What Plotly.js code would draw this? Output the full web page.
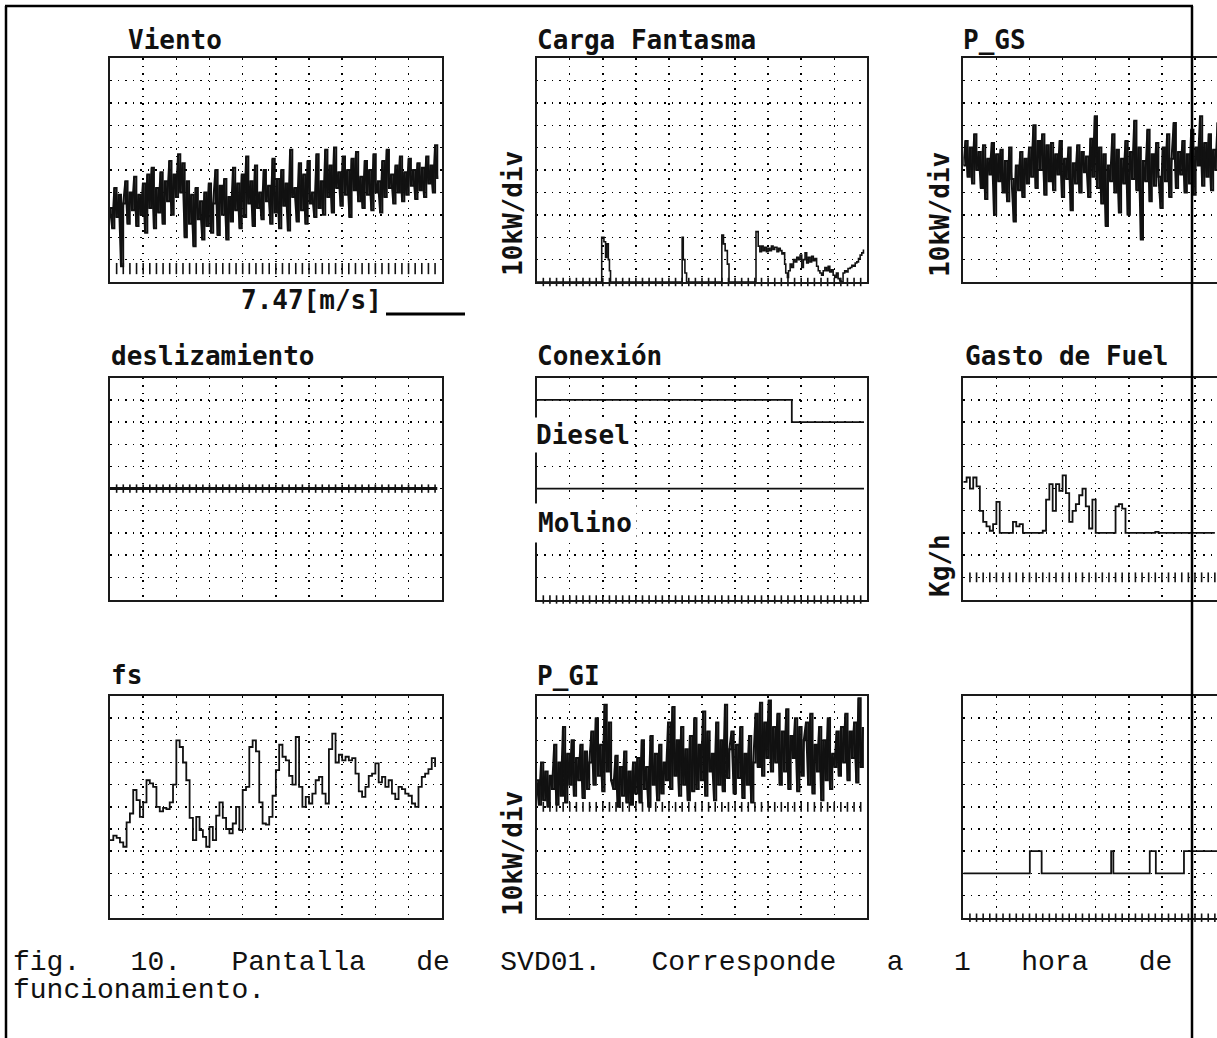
<!DOCTYPE html>
<html><head><meta charset="utf-8">
<script src="https://cdn.plot.ly/plotly-3.0.1.min.js"></script>
<style>html,body{margin:0;padding:0;background:#fff}</style>
</head><body><div id="chart" style="width:1217px;height:1038px"></div>
<script>
// ---- time base: 10 divisions = 60 min on screen; record covers ~59.2 min ----
const MIN_PER_DIV = 6;
const RECORD_MIN = 59.2;
const FAST_STEP_MIN = RECORD_MIN / 149;   // dense channels (150 samples / record)
const SLOW_STEP_MIN = 0.6;                // fs and fuel channels

// ---- channel data ----
// Viento, in screen divisions
const vientoDiv = [3.3,2.4,4.2,2.9,3.9,0.7,3.5,
  4.5,2.6,4.0,3.2,4.7,2.5,3.9,3.0,4.4,
  2.2,4.8,3.3,5.1,2.4,4.2,3.1,4.9,2.6,4.5,3.6,5.4,3.0,4.8,
  3.8,5.7,4.0,5.3,
  2.0,4.5,2.6,3.9,1.6,4.2,2.8,3.6,1.9,4.0,2.5,4.4,2.2,3.5,
  5.0,2.1,4.3,3.0,4.6,1.9,3.8,2.7,5.1,3.2,4.4,2.4,
  4.8,2.9,5.6,3.5,4.5,2.5,5.2,3.3,4.0,2.8,5.0,3.6,4.3,2.6,5.5,3.1,4.6,
  2.4,5.0,3.4,4.4,2.3,5.9,3.8,4.2,2.7,5.3,3.2,4.8,2.6,5.4,3.5,4.0,2.9,5.7,3.3,4.5,3.0,
  5.9,3.8,5.2,3.1,6.0,4.2,4.9,3.4,5.6,3.9,5.0,2.9,5.5,4.1,5.8,3.6,4.7,3.3,5.4,3.9,
  5.0,3.2,5.7,4.0,4.5,3.1,5.4,3.8,5.9,4.2,4.8,3.5,5.2,4.0,5.6,3.6,4.9,3.9,5.5,4.3,5.0,3.7,5.3,4.1,5.1,3.8,5.6,4.4,5.2,4.0,6.1,4.6];
const vientoMarkLevel = 0.6;

// Carga Fantasma, kW (event times in minutes)
const cargaT = [0,11.8,12.2,12.5,12.7,13.0,13.2,13.4,26.4,26.6,
  26.9,27.2,33.6,33.9,34.2,34.6,34.9,39.8,40.2,40.5,
  40.8,41.1,41.4,41.7,42.0,42.3,42.6,42.9,43.2,43.6,
  43.9,44.2,44.5,44.8,45.0,45.2,45.5,45.7,46.0,46.3,
  46.6,46.9,47.2,47.5,47.8,48.1,48.4,48.7,49.0,49.3,
  49.6,49.9,50.2,50.5,50.8,51.1,51.4,51.7,52.0,52.3,
  52.6,52.9,53.2,53.5,53.8,54.1,54.4,54.7,55.0,55.2,
  55.6,55.9,56.2,56.5,56.9,57.2,57.5,57.8,58.1,58.4,
  58.7,59.0,59.3];
const cargaKW = [0,20,18,11,17,10,5,0,20,10,
  4,0,21,17,14,8,0,22.5,16,13.5,
  16,14,15.5,13.5,15,14,16,14.5,15.5,13.5,
  15,14,12.5,13,8,4,2,5,8,6.5,
  10,9,11,10,12,6.5,10,13,8.5,11,
  9,11.5,9.5,10.5,7,5,4,3,5,6.5,
  5,7,4.5,5.5,3,2,4,1.5,0.5,0,
  4,5,4.5,6,6.5,7.5,7,8.5,9,10.5,
  12,13,14.5];

// P_GS, kW (visible part of the record)
const pgsKW = [52,63,47,60,44,66,50,58,
  42,61,37,55,48,62,30,57,45,
  59,40,54,36,60,46,27,52,41,58,38,55,44,60,
  47,70,42,63,50,66,39,61,45,
  62,41,57,48,63,38,55,46,60,32,53,44,61,40,58,49,56,
  38,64,47,74,42,60,35,57,25,52,45,66,40,59,
  31,55,44,63,30,58,46,
  72,41,60,19,54,45,68,36,57,43,62,47,
  33,60,45,66,38,55,71,42,58,48,63,40,
  57,44,68,39,60,52,74,43,62,47,66,41,59,50,71,45];

// deslizamiento, divisions
const deslizT = [0, 59.2];
const deslizDiv = [5, 5];

// Conexión, divisions
const dieselT = [0, 46.3, 59.4];
const dieselDiv = [9, 8, 8];
const molinoT = [0, 59.4];
const molinoDiv = [5, 5];

// Gasto de Fuel, divisions (visible part)
const gastoDiv = [5.3,5.5,5.0,5.5,5.1,4.0,3.5,3.3,3.1,3.4,
  4.4,3.0,3.0,3.0,3.0,3.5,3.3,3.4,3.0,3.0,
  3.0,3.0,3.0,3.0,3.1,4.5,5.2,4.0,5.2,4.9,
  5.6,4.8,3.5,4.0,4.3,4.7,5.0,4.2,3.2,4.5,
  3.0,3.0,3.0,3.0,3.0,3.0,4.2,4.3,4.1,3.0,
  3.0,3.0,3.0,3.0,3.0,3.0,3.0,3.0,3.05,3.0,
  3.0,3.0,3.0,3.0,3.0,3.0,3.0,3.0,3.0,3.0,
  3.0,3.0,3.0,3.0,3.0,3.0,3.0];
const gastoMarkLevel = 1;

// fs, divisions
const fsDiv = [3.5,3.7,3.6,3.4,3.2,4.3,4.7,5.76,5.3,4.55,
  5.2,6.2,6.06,5.9,5.0,4.8,4.95,4.9,5.2,6.0,
  8.0,7.7,7.0,6.2,4.5,3.5,4.55,3.95,3.65,3.2,
  4.1,3.5,4.6,5.2,4.5,4.0,3.8,4.25,5.0,3.95,
  5.76,5.9,7.7,8.0,7.5,5.2,4.25,4.2,4.55,5.5,
  6.66,7.8,7.26,7.1,6.4,6.0,8.15,5.9,5.0,5.45,
  5.15,5.6,6.2,6.35,5.6,5.15,7.6,8.3,7.0,7.35,
  7.1,7.26,7.1,7.2,6.5,5.7,5.45,5.9,6.4,6.5,
  6.96,6.1,6.35,5.9,6.2,5.6,5.35,5.9,5.8,5.6,
  5.5,5.15,5.0,5.9,6.35,6.5,6.7,7.2,6.8];

// P_GI, kW
const pgiKW = [62,51,70,53,66,50,64,
  58,78,51,70,55,86,52,74,60,
  80,55,72,62,78,54,75,58,70,
  84,60,90,64,78,57,96,66,88,62,
  58,73,50,68,55,75,52,66,51,70,56,
  72,52,80,58,68,50,82,60,74,53,78,56,70,62,
  88,58,95,64,80,55,86,60,76,53,82,57,
  90,58,78,62,93,55,84,66,74,53,88,60,80,57,96,63,76,
  84,56,78,63,86,54,74,60,82,52,70,
  92,68,97,64,88,72,98,66,86,
  70,92,60,84,66,94,58,82,72,90,57,86,64,80,
  88,60,92,56,78,66,86,53,80,62,90,58,74,68,84,
  64,86,70,92,62,84,72,88,61,99,68,86];
const pgiMarkLevel = 50;

// unnamed step channel, divisions (event times in minutes)
const pulseT = [0, 12.06, 14.2, 26.8, 27.2, 33.8, 34.9, 40.0, 59.2];
const pulseDiv = [2, 3, 2, 3, 2, 3, 2, 3, 3];

// ---- helpers ----
const W = 1217, H = 1038;
const px = v => v / W;
const py = v => 1 - v / H;
const times = (n, step) => Array.from({length: n}, (_, i) => +(i * step).toFixed(4));
const markTimes = Array.from({length: 49}, (_, i) => +((i + 1) * 0.2 * MIN_PER_DIV).toFixed(3));

const colX = [[110, 441.7], [536.7, 867.3], [963.3, W]];
const rowY = [[58, 282], [377.7, 599.5], [696, 917.7]];
const DIV_PX = 33.1;
const kwPanel = [false, true, true, false, false, false, false, true, false];

const layout = {
  width: W, height: H,
  margin: {l: 0, r: 0, t: 0, b: 0},
  paper_bgcolor: '#fff', plot_bgcolor: '#fff',
  showlegend: false,
  font: {family: 'DejaVu Sans Mono', color: '#111'},
  annotations: [], shapes: []
};

for (let k = 0; k < 9; k++) {
  const c = k % 3, r = Math.floor(k / 3);
  const sx = k === 0 ? '' : String(k + 1);
  const xmax = c === 2 ? (W - colX[2][0]) / DIV_PX * MIN_PER_DIV : 10 * MIN_PER_DIV;
  const common = {
    showgrid: true, gridcolor: '#000', gridwidth: 1.4, griddash: '1.5px,6px',
    showline: true, linecolor: '#1a1a1a', linewidth: 2,
    ticks: '', showticklabels: false, zeroline: false, fixedrange: true
  };
  layout['xaxis' + sx] = Object.assign({}, common, {
    domain: [px(colX[c][0]), px(colX[c][1])],
    range: [0, xmax], tick0: 0, dtick: MIN_PER_DIV,
    mirror: true, anchor: 'y' + sx
  });
  layout['yaxis' + sx] = Object.assign({}, common, {
    domain: [py(rowY[r][1]), py(rowY[r][0])],
    range: kwPanel[k] ? [0, 100] : [0, 10], tick0: 0, dtick: kwPanel[k] ? 10 : 1,
    mirror: c !== 2, anchor: 'x' + sx
  });
}

const ax = k => ({xaxis: 'x' + (k === 1 ? '' : k), yaxis: 'y' + (k === 1 ? '' : k)});
const data = [];
function sig(k, x, y, w, shape) {
  data.push(Object.assign({type: 'scatter', mode: 'lines', x: x, y: y,
    line: {color: '#111', width: w, shape: shape || 'hv'}, hoverinfo: 'skip'}, ax(k)));
}
// dense (oscilloscope-like) channels: stepped trace plus its sample-to-sample path
function dense(k, x, y) {
  sig(k, x, y, 2, 'hv');
  sig(k, x, y, 2, 'linear');
}
function marks(k, level, size) {
  data.push(Object.assign({
    type: 'scatter', mode: 'markers', x: markTimes, y: markTimes.map(() => level),
    marker: {symbol: 'line-ns', size: size, color: '#111', line: {color: '#111', width: 1.6}},
    cliponaxis: false, hoverinfo: 'skip'
  }, ax(k)));
}

dense(1, times(vientoDiv.length, FAST_STEP_MIN), vientoDiv);
marks(1, vientoMarkLevel, 8);
sig(2, cargaT, cargaKW, 1.6);
marks(2, 0, 6);
dense(3, times(pgsKW.length, FAST_STEP_MIN), pgsKW);
sig(4, deslizT, deslizDiv, 3);
marks(4, 5, 6);
sig(5, dieselT, dieselDiv, 1.8);
sig(5, molinoT, molinoDiv, 1.8);
marks(5, 0, 6);
sig(6, times(gastoDiv.length, SLOW_STEP_MIN), gastoDiv, 1.8);
marks(6, gastoMarkLevel, 7);
sig(7, times(fsDiv.length, SLOW_STEP_MIN), fsDiv, 1.8);
dense(8, times(pgiKW.length, FAST_STEP_MIN), pgiKW);
marks(8, pgiMarkLevel, 7);
sig(9, pulseT, pulseDiv, 1.8);
marks(9, 0, 6);

// ---- texts ----
const titleFont = {family: 'DejaVu Sans Mono', size: 26, color: '#111', weight: 'bold'};
function label(text, x, yMid, opts) {
  layout.annotations.push(Object.assign({
    text: text, xref: 'paper', yref: 'paper', x: px(x), y: py(yMid),
    xanchor: 'left', yanchor: 'middle', showarrow: false, borderpad: 0,
    font: titleFont
  }, opts || {}));
}
label('Viento', 127, 40);
label('Carga Fantasma', 536, 40);
label('P_GS', 962, 40);
label('deslizamiento', 110, 356);
label('Conexión', 536, 356);
label('Gasto de Fuel', 964, 356);
label('fs', 110, 675);
label('P_GI', 536, 676);
label('7.47[m/s]', 240, 300);
label('Diesel', 533, 435, {bgcolor: '#fff', borderpad: 2});
label('Molino', 533, 523, {bgcolor: '#fff', borderpad: 4});
label('10kW/div', 513, 214, {textangle: -90, xanchor: 'center'});
label('10kW/div', 940, 214, {textangle: -90, xanchor: 'center'});
label('10kW/div', 513, 854, {textangle: -90, xanchor: 'center'});
label('Kg/h', 940, 565, {textangle: -90, xanchor: 'center'});

const capFont = {family: 'Liberation Mono', size: 28, color: '#111'};
label('fig.   10.   Pantalla   de   SVD01.   Corresponde   a   1   hora   de', 12, 962, {font: capFont});
label('funcionamiento.', 12, 990, {font: capFont});

// ---- frame and scale bar ----
const frame = {color: '#000', width: 2.5};
layout.shapes.push(
  {type: 'line', xref: 'paper', yref: 'paper', x0: px(5), x1: px(1193), y0: py(6), y1: py(6), line: frame},
  {type: 'line', xref: 'paper', yref: 'paper', x0: px(6), x1: px(6), y0: py(6), y1: py(H), line: frame},
  {type: 'line', xref: 'paper', yref: 'paper', x0: px(1192), x1: px(1192), y0: py(6), y1: py(H), line: frame},
  {type: 'line', xref: 'paper', yref: 'paper', x0: px(386), x1: px(465), y0: py(314), y1: py(314), line: {color: '#000', width: 3}}
);

Plotly.newPlot('chart', data, layout, {displayModeBar: false, staticPlot: true});
</script>
</body></html>
